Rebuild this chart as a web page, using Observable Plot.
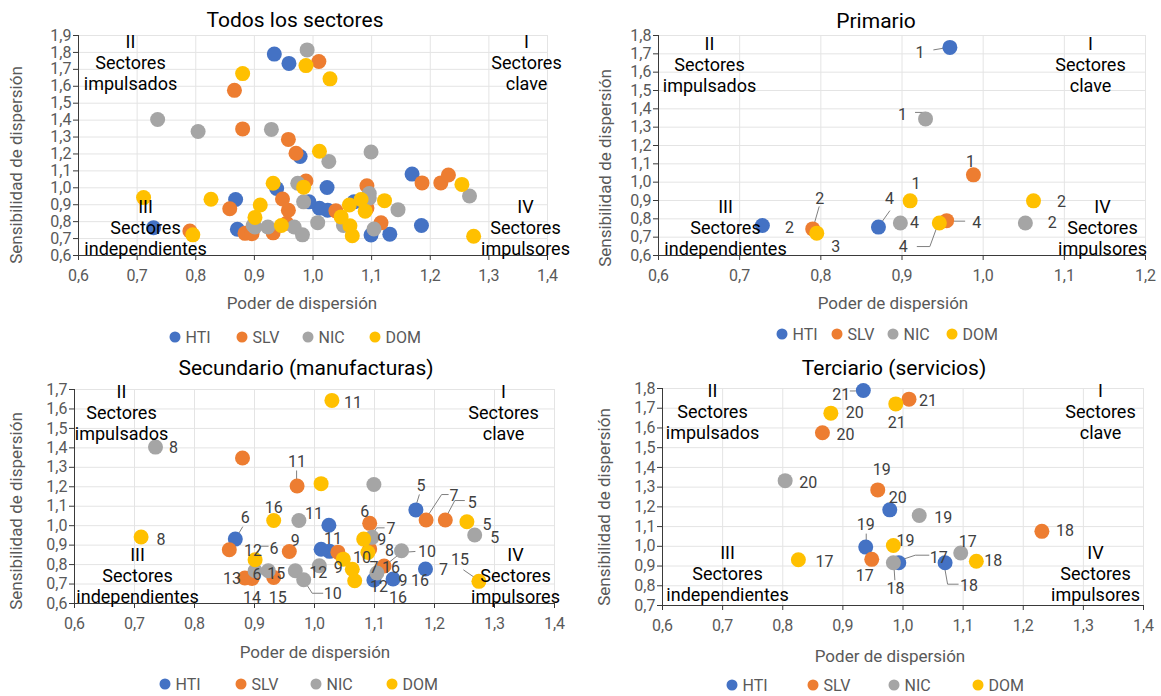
<!DOCTYPE html>
<html><head><meta charset="utf-8">
<script src="https://cdn.jsdelivr.net/npm/d3@7"></script>
<script src="https://cdn.jsdelivr.net/npm/@observablehq/plot@0.6"></script>
<style>
body{margin:0;background:#fff;font-family:Roboto,sans-serif;}
#root{position:relative;width:1161px;height:696px;overflow:hidden;background:#fff;}
.abs{position:absolute;}
.title{font-size:21px;color:#000;transform:translate(-50%,-50%);white-space:nowrap;}
.xt{font-size:17px;color:#595959;transform:translate(-50%,-50%);white-space:nowrap;}
.yt{font-size:17px;color:#595959;transform:translate(-50%,-50%) rotate(-90deg);white-space:nowrap;}
.leg{font-size:16px;color:#595959;transform:translate(-5.5px,-50%);white-space:nowrap;display:flex;align-items:center;}
.dot{width:11px;height:11px;border-radius:50%;display:inline-block;margin-right:5px;}
</style></head><body><div id="root"></div><script>
// ---------- data ----------
const countries = ["HTI", "SLV", "NIC", "DOM"];
const countryColors = ["#4472C4", "#ED7D31", "#A5A5A5", "#FFC000"];

// Primario (sectores 1-4)
const priCountry = ["HTI","HTI","HTI","SLV","SLV","SLV","NIC","NIC","NIC","DOM","DOM","DOM","DOM"];
const priX = [0.959,0.728,0.871, 0.988,0.790,0.955, 0.929,1.052,0.898, 0.910,1.062,0.795,0.946];
const priY = [1.735,0.764,0.755, 1.040,0.745,0.790, 1.345,0.777,0.777, 0.898,0.898,0.722,0.777];
const priLabels = [[0,"1",-30,5],[1,"2",27,2],[2,"4",11,-28],[3,"1",-3,-13],[4,"2",7,-30],[5,"4",30,2],
  [6,"1",-23,-4],[7,"2",27,0],[8,"4",14,0],[9,"1",6,-17],[10,"2",28,1],[11,"3",19,14],[12,"4",-36,24]];
const priLeaders = [[0,[[-16,3],[-4,1]]],[2,[[2,-2],[12,-16]]],[4,[[1,-1],[7,-22]]],[5,[[3,1],[19,1]]],
  [6,[[-10,-6],[1,-6],[1,-1]]],[12,[[-1,2],[-9,24],[-22,24]]]];

// Secundario (manufacturas)
const secCountry = ["HTI","HTI","HTI","HTI","HTI","HTI","HTI","HTI",
  "SLV","SLV","SLV","SLV","SLV","SLV","SLV","SLV","SLV","SLV","SLV","SLV","SLV",
  "NIC","NIC","NIC","NIC","NIC","NIC","NIC","NIC","NIC","NIC","NIC","NIC",
  "DOM","DOM","DOM","DOM","DOM","DOM","DOM","DOM","DOM","DOM","DOM","DOM"];
const secX = [1.169,0.868,1.185,1.024,1.131,1.025,1.011,1.099,
  0.880,0.971,1.092,1.186,1.218,0.858,0.958,1.039,1.092,1.116,0.884,0.896,0.932,
  1.267,1.096,0.735,1.145,0.974,1.099,0.901,0.923,0.968,0.982,1.008,1.104,
  1.254,0.711,1.029,1.274,0.932,0.901,1.011,1.082,1.089,1.048,1.063,1.067];
const secY = [1.081,0.931,0.777,1.002,0.726,0.868,0.879,0.721,
  1.348,1.204,1.012,1.029,1.029,0.876,0.867,0.864,0.880,0.793,0.731,0.729,0.734,
  0.952,0.940,1.404,0.871,1.027,1.212,0.768,0.768,0.768,0.722,0.794,0.757,
  1.020,0.942,1.644,0.714,1.027,0.825,1.216,0.931,0.862,0.828,0.776,0.717];
const secLabels = [[0,"5",5,-24],[1,"6",10,-21],[2,"7",18,1],[4,"9",10,2],[4,"16",27,2],[4,"16",5,19],[6,"11",12,-10],[7,"12",5,7],
  [9,"11",0,-24],[10,"6",-5,-11],[11,"7",28,-24],[12,"5",27,-17],[14,"9",6,-11],[16,"9",12,-9],[17,"16",7,2],[18,"13",-13,1],[19,"14",0,19],[20,"15",4,20],
  [21,"5",20,3],[22,"7",19,-8],[23,"8",18,1],[24,"8",-12,0],[25,"11",15,-7],[27,"6",2,4],[28,"15",8,3],[30,"10",29,14],[31,"12",-1,7],[32,"10",50,-21],[32,"7",-3,-5],
  [33,"5",20,3],[34,"8",20,3],[35,"11",21,2],[36,"15",-19,-21],[37,"16",0,-13],[38,"12",-2,-9],[38,"6",19,-11],[41,"10",-6,5],[42,"9",-5,9]];
const secLeaders = [[0,[[0,-2],[4,-15]]],[1,[[2,-2],[8,-12]]],[9,[[0,-3],[0,-15]]],[11,[[1,-2],[16,-25],[23,-25]]],
  [12,[[1,-2],[10,-19],[20,-19]]],[22,[[1,-2],[5,-9],[13,-9]]],[32,[[0,0],[25,-20],[39,-21]]],[30,[[2,3],[9,14],[20,14]]],
  [36,[[-2,-2],[-15,-11]]],[38,[[2,-4],[6,-13],[14,-13]]]];

// Terciario (servicios) — sectores 17-21
const terCountry = ["HTI","HTI","HTI","HTI","HTI","SLV","SLV","SLV","SLV","SLV","NIC","NIC","NIC","NIC","NIC","DOM","DOM","DOM","DOM","DOM"];
const terX = [0.993,1.070,0.938,0.978,0.934, 0.948,1.231,0.958,0.866,1.010, 1.096,0.984,1.027,0.804,0.990, 0.826,1.122,0.984,0.880,0.988];
const terY = [0.917,0.917,0.996,1.185,1.790, 0.934,1.076,1.286,1.576,1.746, 0.966,0.917,1.156,1.333,1.815, 0.932,0.924,1.004,1.675,1.722];
const terLabels = [[0,"17",40,-5],[1,"18",24,23],[2,"19",0,-22],[3,"20",8,-12],[4,"21",-22,4],
  [5,"17",-7,17],[6,"18",23,0],[7,"19",4,-20],[8,"20",23,2],[9,"21",19,2],
  [10,"17",7,-11],[11,"18",2,26],[12,"19",24,2],[13,"20",23,2],
  [15,"17",26,2],[16,"18",17,0],[17,"19",12,-5],[18,"20",24,0],[19,"21",1,19]];
const terLeaders = [[0,[[2,-2],[17,-7],[31,-7]]],[1,[[0,5],[3,22],[14,22]]],[2,[[1,-3],[1,-13]]],[4,[[-7,1],[-13,1]]],[11,[[1,3],[2,18]]]];

const quadTexts = ["II\nSectores\nimpulsados", "I\nSectores\nclave", "III\nSectores\nindependientes", "IV\nSectores\nimpulsores"];

// ---------- helpers ----------
const toPts = (c, xs, ys) => c.map((d, i) => ({c: d, x: xs[i], y: ys[i]}));
const fmt = d => d.toFixed(1).replace(".", ",");
const ticks = ([a, b]) => d3.range(Math.round(a * 10), Math.round(b * 10) + 1).map(v => v / 10);
const root = document.getElementById("root");

function leaderMark(pts, leaders) {
  return (index, scales) => {
    const g = d3.create("svg:g").attr("fill", "none").attr("stroke", "#7f7f7f").attr("stroke-width", 1);
    for (const [i, path] of leaders) {
      const p = pts[i];
      const cx = scales.x(p.x), cy = scales.y(p.y);
      g.append("path").attr("d", "M" + path.map(([dx, dy]) => `${cx + dx},${cy + dy}`).join("L"));
    }
    return g.node();
  };
}

function panel(cfg) {
  const xT = ticks(cfg.xDom), yT = ticks(cfg.yDom);
  const pts = cfg.pts.filter(p => p.x >= cfg.xDom[0] && p.x <= cfg.xDom[1] && p.y >= cfg.yDom[0] && p.y <= cfg.yDom[1]);
  const marks = [
    Plot.gridX(xT, {stroke: "#e4e4e4", strokeOpacity: 1}),
    Plot.gridY(yT, {stroke: "#e4e4e4", strokeOpacity: 1}),
    Plot.ruleX([cfg.xDom[0]], {stroke: "#3a3a3a"}),
    Plot.ruleY([cfg.yDom[0]], {stroke: "#3a3a3a"}),
    Plot.axisX(xT, {tickFormat: fmt, tickSize: 5, tickPadding: 9, fontSize: 16, label: null, stroke: "#3a3a3a"}),
    Plot.axisY(yT, {tickFormat: fmt, tickSize: 5, tickPadding: 2, fontSize: 16, label: null, stroke: "#3a3a3a"}),
  ];
  if (cfg.leaders) marks.push(leaderMark(cfg.pts, cfg.leaders));
  countries.forEach((c, k) => {
    marks.push(Plot.dot(pts.filter(p => p.c === c), {x: "x", y: "y", r: 7.5, fill: countryColors[k], stroke: "none"}));
  });
  if (cfg.labels) for (const [i, t, dx, dy] of cfg.labels) {
    marks.push(Plot.text([cfg.pts[i]], {x: "x", y: "y", text: () => t, dx, dy, fontSize: 16, fill: "#404040"}));
  }
  const anchors = ["top-left", "top-right", "bottom-left", "bottom-right"];
  quadTexts.forEach((t, k) => {
    const [dx, dy] = cfg.quad[k];
    marks.push(Plot.text([t], {frameAnchor: anchors[k], text: d => d, dx, dy, textAnchor: "middle",
      lineAnchor: k < 2 ? "top" : "bottom", fontSize: 18, lineHeight: 1.15, fill: "#000"}));
  });
  const svg = Plot.plot({
    width: cfg.w, height: cfg.h,
    marginLeft: cfg.m[0], marginRight: cfg.m[1], marginTop: cfg.m[2], marginBottom: cfg.m[3],
    x: {domain: cfg.xDom}, y: {domain: cfg.yDom},
    style: {fontFamily: "Roboto, sans-serif", color: "#595959", background: "transparent", overflow: "visible"},
    marks
  });
  svg.style.position = "absolute";
  svg.style.left = cfg.left + "px";
  svg.style.top = cfg.top + "px";
  root.appendChild(svg);

  const add = (cls, text, x, y) => {
    const d = document.createElement("div");
    d.className = "abs " + cls; d.textContent = text;
    d.style.left = x + "px"; d.style.top = y + "px";
    root.appendChild(d);
  };
  add("title", cfg.title, cfg.titlePos[0], cfg.titlePos[1]);
  add("xt", "Poder de dispersión", cfg.xtPos[0], cfg.xtPos[1]);
  add("yt", "Sensibilidad de dispersión", cfg.ytPos[0], cfg.ytPos[1]);
  countries.forEach((c, k) => {
    const d = document.createElement("div");
    d.className = "abs leg";
    d.style.left = cfg.legX[k] + "px"; d.style.top = cfg.legY + "px";
    d.innerHTML = `<span class="dot" style="background:${countryColors[k]}"></span>${c}`;
    root.appendChild(d);
  });
}

const priPts = toPts(priCountry, priX, priY);
const secPts = toPts(secCountry, secX, secY);
const terPts = toPts(terCountry, terX, terY);
const allPts = countries.flatMap(c => [...priPts, ...secPts, ...terPts].filter(p => p.c === c));

panel({title: "Todos los sectores", left: 0, top: 0, w: 580, h: 350, m: [78, 33, 35, 95],
  xDom: [0.6, 1.4], yDom: [0.6, 1.9], pts: allPts,
  quad: [[52, -2], [-21, -2], [67, -1], [-22, -1]],
  titlePos: [295, 20], xtPos: [302, 303], ytPos: [16, 165], legX: [175, 242, 308, 375], legY: 337});

panel({title: "Primario", left: 580, top: 0, w: 581, h: 350, m: [78, 16, 35, 95],
  xDom: [0.6, 1.2], yDom: [0.6, 1.8], pts: priPts, labels: priLabels, leaders: priLeaders,
  quad: [[51, 0], [-55, 0], [67, -1], [-43, -1]],
  titlePos: [876, 21], xtPos: [893, 303], ytPos: [605, 168], legX: [782, 837, 893, 952], legY: 334});

panel({title: "Secundario (manufacturas)", left: 0, top: 350, w: 580, h: 346, m: [74, 26, 39, 93],
  xDom: [0.6, 1.4], yDom: [0.6, 1.7], pts: secPts, labels: secLabels, leaders: secLeaders,
  quad: [[47, -6], [-51, -6], [63, -1], [-39, -1]],
  titlePos: [306, 368], xtPos: [315, 652], ytPos: [16, 511], legX: [165, 241, 316, 392], legY: 684});

panel({title: "Terciario (servicios)", left: 580, top: 350, w: 581, h: 346, m: [82, 18, 38, 91],
  xDom: [0.6, 1.4], yDom: [0.7, 1.8], pts: terPts, labels: terLabels, leaders: terLeaders,
  quad: [[50, -6], [-43, -6], [65, -5], [-48, -5]],
  titlePos: [894, 368], xtPos: [890, 656], ytPos: [604, 507], legX: [732, 813, 894, 978], legY: 685});
</script></body></html>
